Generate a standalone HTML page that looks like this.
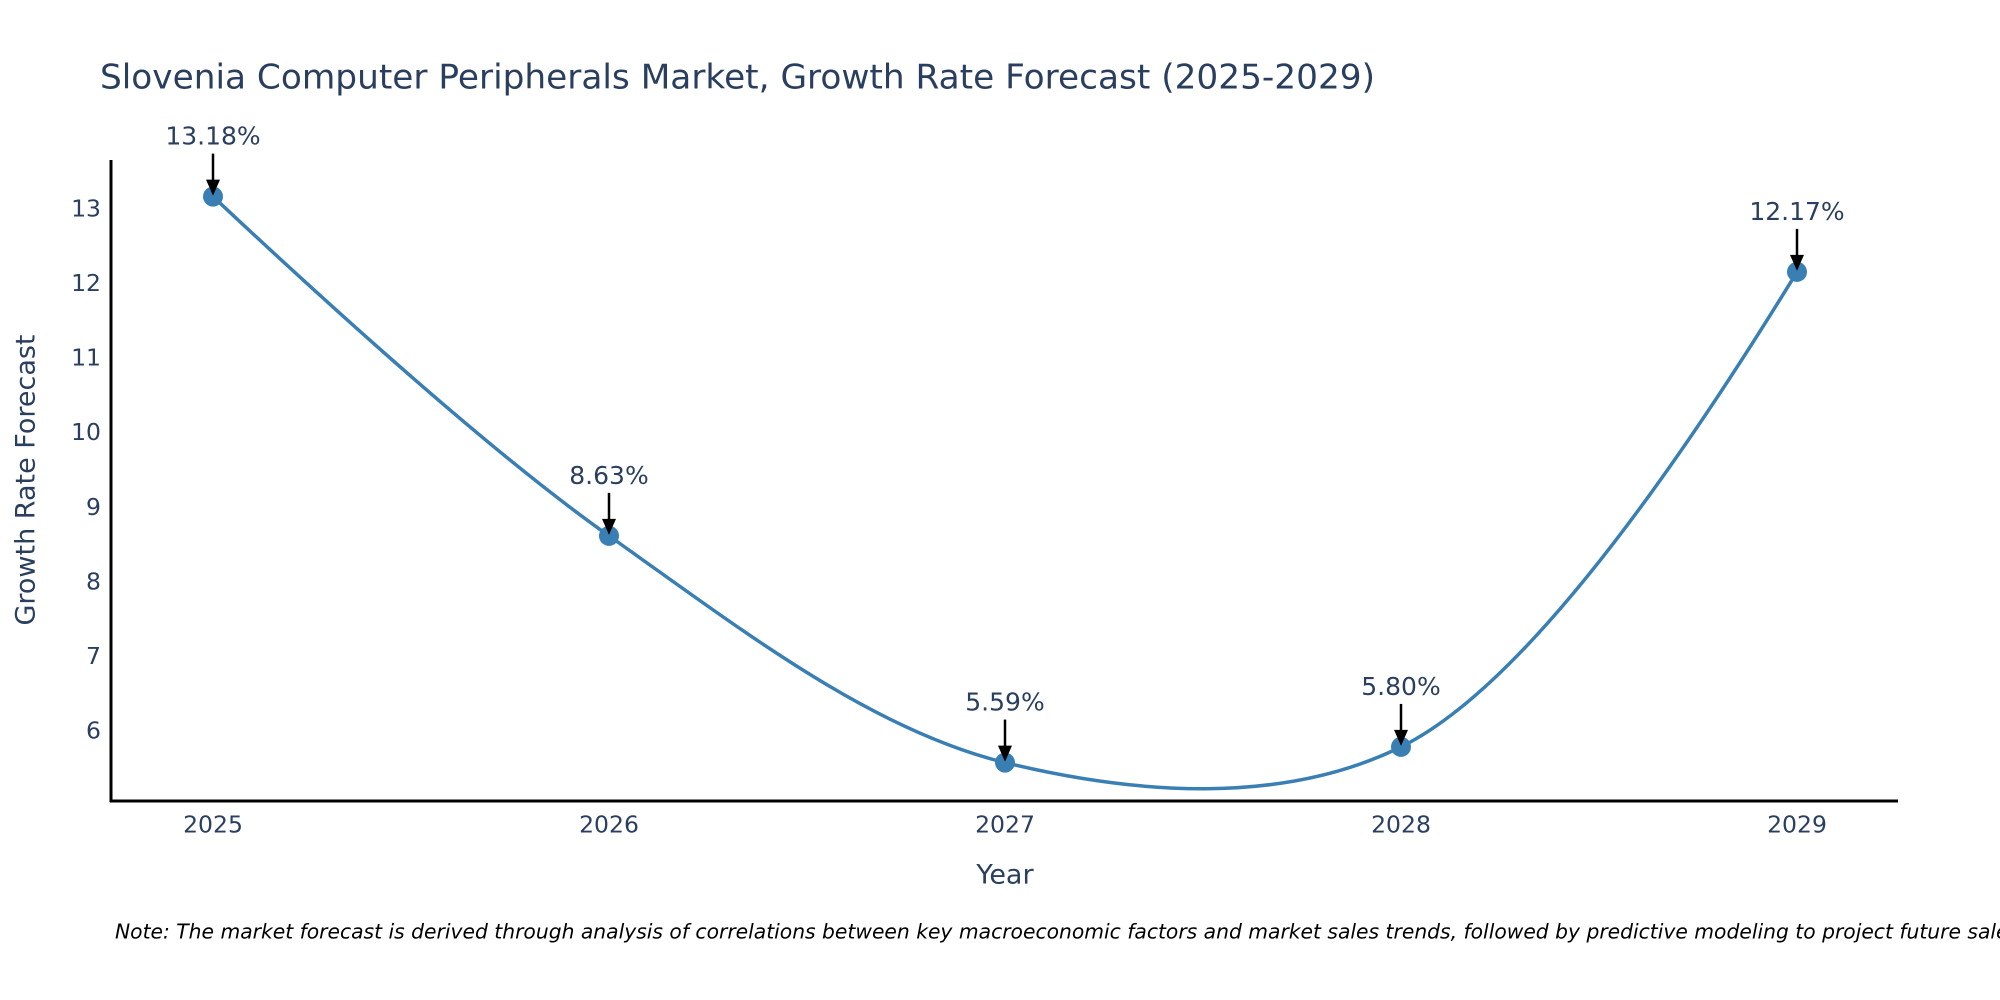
<!DOCTYPE html>
<html><head><meta charset="utf-8">
<style>
html,body{margin:0;padding:0;background:#fff;overflow:hidden;}
svg{display:block;font-family:"DejaVu Sans","Liberation Sans",sans-serif;}
</style></head>
<body>
<svg id="chart" width="2000" height="1000" viewBox="0 0 2000 1000" xmlns="http://www.w3.org/2000/svg">
<rect width="2000" height="1000" fill="#fff"/>
<text x="100" y="79" font-size="34" fill="#2a3f5f" dominant-baseline="middle" textLength="1275" lengthAdjust="spacingAndGlyphs">Slovenia Computer Peripherals Market, Growth Rate Forecast (2025-2029)</text>
<g id="ticks"></g>
<path id="line" fill="none" stroke="#3a7fb4" stroke-width="3.5"/>
<g id="marks"></g>
<line x1="111" y1="160" x2="111" y2="802" stroke="#000" stroke-width="3"/>
<line x1="110" y1="801" x2="1898" y2="801" stroke="#000" stroke-width="3"/>
<text x="1005" y="876" font-size="27" fill="#2a3f5f" text-anchor="middle" dominant-baseline="middle">Year</text>
<text x="27" y="480" font-size="27" fill="#2a3f5f" text-anchor="middle" dominant-baseline="middle" transform="rotate(-90 27 480)">Growth Rate Forecast</text>
<text x="115" y="933" font-size="20.3" font-style="italic" fill="#000" dominant-baseline="middle">Note: The market forecast is derived through analysis of correlations between key macroeconomic factors and market sales trends, followed by predictive modeling to project future sales</text>
</svg>
<script>
const years = ["2025","2026","2027","2028","2029"];
const growth = [13.18, 8.63, 5.59, 5.80, 12.17];
const labels = ["13.18%","8.63%","5.59%","5.80%","12.17%"];
const yTicks = [6,7,8,9,10,11,12,13];

const NS = "http://www.w3.org/2000/svg";
function xs(i){ return 213 + i * 396; }
function ys(v){ return 732 - (v - 6) * 74.57; }

const ticks = document.getElementById('ticks');
yTicks.forEach(t => {
  const el = document.createElementNS(NS,'text');
  
  
  el.setAttribute('x', 101); el.setAttribute('y', ys(t));
  el.setAttribute('font-size', '23.5'); el.setAttribute('fill', '#2a3f5f');
  el.setAttribute('text-anchor', 'end'); el.setAttribute('dominant-baseline', 'middle');
  el.textContent = t;
  ticks.appendChild(el);
});
years.forEach((y,i) => {
  const el = document.createElementNS(NS,'text');
  
  
  el.setAttribute('x', xs(i)); el.setAttribute('y', 826);
  el.setAttribute('font-size', '23.5'); el.setAttribute('fill', '#2a3f5f');
  el.setAttribute('text-anchor', 'middle'); el.setAttribute('dominant-baseline', 'middle');
  el.textContent = y;
  ticks.appendChild(el);
});

const pts = growth.map((v,i) => [xs(i), ys(v)]);
function tangent(p0,p1,p2,s){
  const d1x=p0[0]-p1[0], d1y=p0[1]-p1[1], d2x=p2[0]-p1[0], d2y=p2[1]-p1[1];
  const d1a=Math.pow(d1x*d1x+d1y*d1y,0.25), d2a=Math.pow(d2x*d2x+d2y*d2y,0.25);
  const nx=(d2a*d2a*d1x-d1a*d1a*d2x)*s, ny=(d2a*d2a*d1y-d1a*d1a*d2y)*s;
  const den1=3*d2a*(d1a+d2a), den2=3*d1a*(d1a+d2a);
  return [[p1[0]+nx/den1, p1[1]+ny/den1],[p1[0]-nx/den2, p1[1]-ny/den2]];
}
const tg=[];
for(let i=1;i<pts.length-1;i++) tg.push(tangent(pts[i-1],pts[i],pts[i+1],1));
let d='M'+pts[0]+'Q'+tg[0][0]+' '+pts[1];
for(let i=2;i<pts.length-1;i++) d+='C'+tg[i-2][1]+' '+tg[i-1][0]+' '+pts[i];
d+='Q'+tg[tg.length-1][1]+' '+pts[pts.length-1];
document.getElementById('line').setAttribute('d', d);

const marks = document.getElementById('marks');
pts.forEach((p,i) => {
  const c = document.createElementNS(NS,'circle');
  
  
  c.setAttribute('cx', p[0]); c.setAttribute('cy', p[1]); c.setAttribute('r', 10);
  c.setAttribute('fill', '#3a7fb4');
  marks.appendChild(c);
  const ln = document.createElementNS(NS,'line');
  
  
  ln.setAttribute('x1', p[0]); ln.setAttribute('x2', p[0]);
  ln.setAttribute('y1', p[1]-43); ln.setAttribute('y2', p[1]-12);
  ln.setAttribute('stroke', '#000'); ln.setAttribute('stroke-width', '2.5');
  marks.appendChild(ln);
  const hd = document.createElementNS(NS,'path');
  
  
  hd.setAttribute('d', `M${p[0]-7},${p[1]-17} L${p[0]+7},${p[1]-17} L${p[0]},${p[1]-1} Z`);
  hd.setAttribute('fill', '#000');
  marks.appendChild(hd);
  const t = document.createElementNS(NS,'text');
  
  
  t.setAttribute('x', p[0]); t.setAttribute('y', p[1]-59);
  t.setAttribute('font-size', '25'); t.setAttribute('fill', '#2a3f5f');
  t.setAttribute('text-anchor', 'middle'); t.setAttribute('dominant-baseline', 'middle');
  t.textContent = labels[i];
  marks.appendChild(t);
});
</script>
</body></html>
